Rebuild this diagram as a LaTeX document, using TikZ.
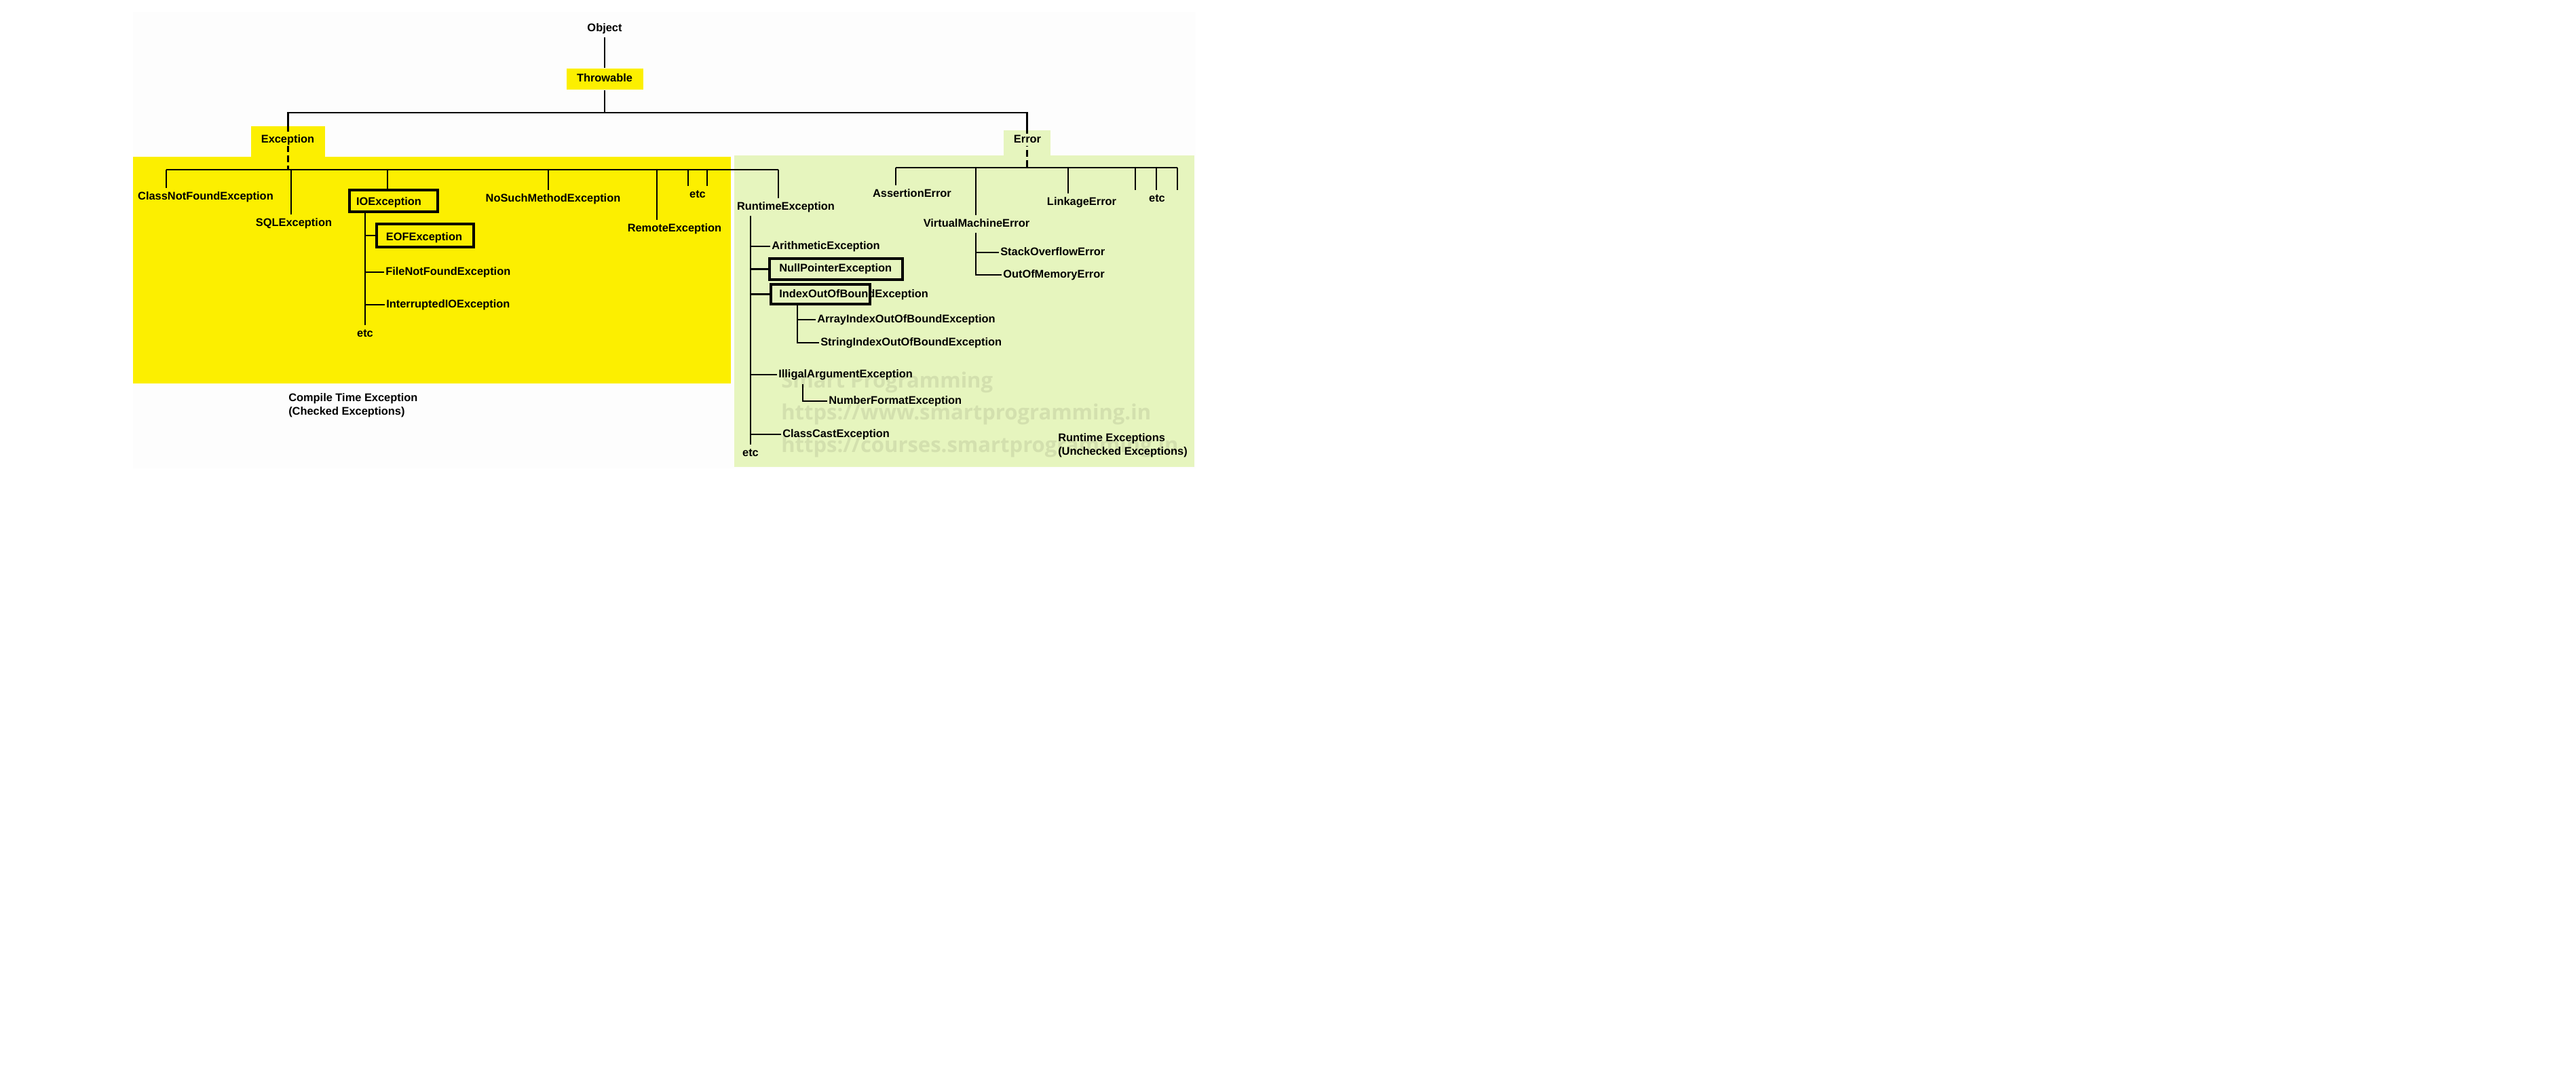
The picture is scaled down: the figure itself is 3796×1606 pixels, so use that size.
\documentclass[tikz,border=0pt]{standalone}
\usepackage{fontspec}
\setmainfont{Liberation Sans}
\newfontfamily\wmfont{Open Sans}
\definecolor{chkyellow}{HTML}{FCEF00}
\definecolor{unchkgreen}{HTML}{E6F5BE}
\definecolor{paper}{HTML}{FDFDFD}
\definecolor{wmgreen}{HTML}{D3E0AE}
\begin{document}
\begin{tikzpicture}[x=1pt, y=-1pt, line width=2.5pt,
  lbl/.style={font=\bfseries\fontsize{16.4}{20}\selectfont, inner xsep=1pt, inner ysep=4pt, text height=12pt, text depth=3.5pt},
  tab/.style={inner sep=0pt},
  hbox/.style={draw, line width=4pt, inner sep=0pt},
  note/.style={font=\bfseries\fontsize{16.4}{20}\selectfont, align=left, inner sep=0pt, anchor=west},
  wm/.style={font=\wmfont\bfseries\fontsize{31}{31}\selectfont, text=wmgreen, anchor=west, inner sep=0pt},
  dashline/.style={dash pattern=on 10pt off 5pt}]
                \useasboundingbox (0,0) rectangle (3796,1606);
                \fill[paper] (196,18) rectangle (1762,690);
                \fill[chkyellow] (196,231) rectangle (1077,565);
                \fill[unchkgreen] (1082,229) rectangle (1760,688);

                \node[wm] at (1150, 563) (wm1) {Smart Programming};
                \node[wm] at (1150, 610) (wm2) {https://www.smartprogramming.in};
                \node[wm] at (1150, 658) (wm3) {https://courses.smartprogramming.in};

                % top of the tree
                \node[lbl] at (891, 42) (obj) {Object};
                \node[lbl, tab, fill=chkyellow, minimum width=113, minimum height=31] at (891, 116.5) (thr) {Throwable};
                \node[tab, fill=chkyellow, minimum width=109, minimum height=46] at (424.5, 208.5) (exc) {};
                \node[tab, fill=unchkgreen, minimum width=69, minimum height=37] at (1513.5, 210.5) (err) {};
                \coordinate (tbus) at (891, 166);
                \coordinate (ebus) at (424.5, 250);
                \coordinate (rbus) at (1513.5, 247);

            \draw (obj) -- (thr);
            \draw (thr) -- (tbus);
            \draw (exc.north) |- (tbus) -| (err.north);
            \draw[dashline] (exc.north) -- (ebus);
            \draw[dashline] (err.north) -- (rbus);
                \node[lbl, fill=chkyellow, inner sep=1pt] at (424, 206) (exclbl) {Exception};
                \node[lbl, fill=unchkgreen, inner sep=1pt] at (1514, 206) (errlbl) {Error};

                % checked exceptions
                \coordinate (e1) at (245, 250);
                \coordinate (e2) at (429, 250);
                \coordinate (e3) at (571, 250);
                \coordinate (e4) at (808, 250);
                \coordinate (e5) at (968, 250);
                \coordinate (e6) at (1014, 250);
                \coordinate (e7) at (1042, 250);
                \coordinate (e8) at (1147, 250);
                \node[lbl] at (303, 290) (cnf) {ClassNotFoundException};
                \node[lbl] at (433, 329) (sql) {SQLException};
                \node[hbox, minimum width=130, minimum height=32] at (580, 296) (iobox) {};
                \node[lbl] at (573, 298) (io) {IOException};
                \node[lbl] at (815, 293) (nsm) {NoSuchMethodException};
                \node[lbl] at (994, 337) (rem) {RemoteException};
                \node[lbl] at (1028, 287) (cetc) {etc};

            \draw (e1) -- (e8);
            \draw (e1) -- (e1 |- cnf.north);
            \draw (e2) -- (e2 |- sql.north);
            \draw (e3) -- (e3 |- iobox.north);
            \draw (e4) -- (e4 |- nsm.north);
            \draw (e5) -- (e5 |- rem.north);
            \draw (e6) -- (e6 |- cetc.north);
            \draw (e7) -- (e7 |- cetc.north);

                \node[lbl] at (538, 492) (ioetc) {etc};
                \node[hbox, minimum width=143, minimum height=34] at (626.5, 347) (eofbox) {};
                \node[lbl] at (625, 350) (eof) {EOFException};
                \node[lbl, anchor=west] at (566, 401) (fnf) {FileNotFoundException};
                \node[lbl, anchor=west] at (567, 449) (iio) {InterruptedIOException};

            \draw (ioetc.north |- iobox.south) -- (ioetc.north);
            \draw (ioetc.north |- eofbox.west) -- (eofbox.west);
            \draw (ioetc.north |- fnf.west) -- (fnf.west);
            \draw (ioetc.north |- iio.west) -- (iio.west);

                \node[note] at (424, 597) (cte) {Compile Time Exception\\(Checked Exceptions)};

                % unchecked exceptions
                \node[lbl] at (1158, 305) (rt) {RuntimeException};
                \node[lbl] at (1106, 668) (rtetc) {etc};
                \node[lbl, anchor=west] at (1135, 363) (ari) {ArithmeticException};
                \node[hbox, minimum width=196, minimum height=31] at (1232, 396.5) (npebox) {};
                \node[lbl, anchor=west] at (1146, 396) (npe) {NullPointerException};
                \node[hbox, minimum width=146, minimum height=29] at (1209, 433.5) (iobbox) {};
                \node[lbl, anchor=west] at (1146, 434) (iob) {IndexOutOfBoundException};
                \coordinate (iobv) at (1175, 448);
                \node[lbl, anchor=west] at (1202, 471) (aio) {ArrayIndexOutOfBoundException};
                \node[lbl, anchor=west] at (1207, 505) (sio) {StringIndexOutOfBoundException};
                \node[lbl, anchor=west] at (1145, 552) (iae) {IlligalArgumentException};
                \coordinate (iaev) at (1183, 566);
                \node[lbl, anchor=west] at (1219, 591) (nfe) {NumberFormatException};
                \node[lbl, anchor=west] at (1151, 640) (cce) {ClassCastException};

            \draw (e8) -- (e8 |- rt.north);
            \draw (rtetc.north |- rt.south) -- (rtetc.north);
            \draw (rtetc.north |- ari.west) -- (ari.west);
            \draw (rtetc.north |- npebox.west) -- (npebox.west);
            \draw (rtetc.north |- iobbox.west) -- (iobbox.west);
            \draw (iobv) |- (sio.west);
            \draw (iobv |- aio.west) -- (aio.west);
            \draw (rtetc.north |- iae.west) -- (iae.west);
            \draw (iaev) |- (nfe.west);
            \draw (rtetc.north |- cce.west) -- (cce.west);

                \node[note] at (1558, 656) (rte) {Runtime Exceptions\\(Unchecked Exceptions)};

                % errors
                \coordinate (r1) at (1320, 247);
                \coordinate (r2) at (1438, 247);
                \coordinate (r3) at (1574, 247);
                \coordinate (r4) at (1673, 247);
                \coordinate (r5) at (1704, 247);
                \coordinate (r6) at (1735, 247);
                \node[lbl] at (1344, 286) (ae) {AssertionError};
                \node[lbl] at (1439, 330) (vme) {VirtualMachineError};
                \node[lbl] at (1594, 298) (le) {LinkageError};
                \node[lbl] at (1705, 293) (eetc) {etc};
                \node[lbl, anchor=west] at (1472, 372) (soe) {StackOverflowError};
                \node[lbl, anchor=west] at (1476, 405) (oom) {OutOfMemoryError};

            \draw (r1) -- (r6);
            \draw (r1) -- (r1 |- ae.north);
            \draw (r2) -- (r2 |- vme.north);
            \draw (r3) -- (r3 |- le.north);
            \draw (r4) -- (r4 |- eetc.north);
            \draw (r5) -- (r5 |- eetc.north);
            \draw (r6) -- (r6 |- eetc.north);
            \draw (r2 |- vme.south) |- (oom.west);
            \draw (r2 |- soe.west) -- (soe.west);

            \end{tikzpicture}
\end{document}
